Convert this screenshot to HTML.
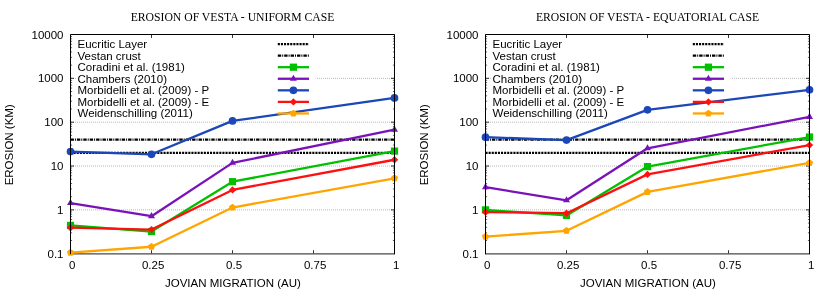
<!DOCTYPE html>
<html><head><meta charset="utf-8"><title>Erosion of Vesta</title>
<style>
html,body{margin:0;padding:0;background:#fff;}
body{width:830px;height:291px;overflow:hidden;}
svg{display:block;will-change:transform;}
text{font-family:"Liberation Sans",sans-serif;font-size:11.5px;fill:#000;}
.t{font-family:"Liberation Serif",serif;font-size:11.7px;}
</style></head><body>
<svg width="830" height="291" viewBox="0 0 830 291">
<rect width="830" height="291" fill="#fff"/>
<g transform="translate(0,0)">
<line x1="71.0" y1="209.86" x2="394.5" y2="209.86" stroke="#9a9a9a" stroke-width="0.7" stroke-dasharray="1 1"/>
<line x1="71.0" y1="166.02" x2="394.5" y2="166.02" stroke="#9a9a9a" stroke-width="0.7" stroke-dasharray="1 1"/>
<line x1="71.0" y1="122.18" x2="394.5" y2="122.18" stroke="#9a9a9a" stroke-width="0.7" stroke-dasharray="1 1"/>
<line x1="71.0" y1="78.34" x2="394.5" y2="78.34" stroke="#9a9a9a" stroke-width="0.7" stroke-dasharray="1 1"/>
<rect x="76" y="38" width="239.8" height="81.5" fill="#fff"/>
<path d="M70.5 240.50 h1.6 M394.5 240.50 h-1.6" stroke="#000" stroke-width="0.6" fill="none"/>
<path d="M70.5 232.78 h1.6 M394.5 232.78 h-1.6" stroke="#000" stroke-width="0.6" fill="none"/>
<path d="M70.5 227.31 h1.6 M394.5 227.31 h-1.6" stroke="#000" stroke-width="0.6" fill="none"/>
<path d="M70.5 223.06 h1.6 M394.5 223.06 h-1.6" stroke="#000" stroke-width="0.6" fill="none"/>
<path d="M70.5 219.59 h1.6 M394.5 219.59 h-1.6" stroke="#000" stroke-width="0.6" fill="none"/>
<path d="M70.5 216.65 h1.6 M394.5 216.65 h-1.6" stroke="#000" stroke-width="0.6" fill="none"/>
<path d="M70.5 214.11 h1.6 M394.5 214.11 h-1.6" stroke="#000" stroke-width="0.6" fill="none"/>
<path d="M70.5 211.87 h1.6 M394.5 211.87 h-1.6" stroke="#000" stroke-width="0.6" fill="none"/>
<path d="M70.5 209.86 h3.5 M394.5 209.86 h-3.5" stroke="#000" stroke-width="0.8" fill="none"/>
<path d="M70.5 196.66 h1.6 M394.5 196.66 h-1.6" stroke="#000" stroke-width="0.6" fill="none"/>
<path d="M70.5 188.94 h1.6 M394.5 188.94 h-1.6" stroke="#000" stroke-width="0.6" fill="none"/>
<path d="M70.5 183.47 h1.6 M394.5 183.47 h-1.6" stroke="#000" stroke-width="0.6" fill="none"/>
<path d="M70.5 179.22 h1.6 M394.5 179.22 h-1.6" stroke="#000" stroke-width="0.6" fill="none"/>
<path d="M70.5 175.75 h1.6 M394.5 175.75 h-1.6" stroke="#000" stroke-width="0.6" fill="none"/>
<path d="M70.5 172.81 h1.6 M394.5 172.81 h-1.6" stroke="#000" stroke-width="0.6" fill="none"/>
<path d="M70.5 170.27 h1.6 M394.5 170.27 h-1.6" stroke="#000" stroke-width="0.6" fill="none"/>
<path d="M70.5 168.03 h1.6 M394.5 168.03 h-1.6" stroke="#000" stroke-width="0.6" fill="none"/>
<path d="M70.5 166.02 h3.5 M394.5 166.02 h-3.5" stroke="#000" stroke-width="0.8" fill="none"/>
<path d="M70.5 152.82 h1.6 M394.5 152.82 h-1.6" stroke="#000" stroke-width="0.6" fill="none"/>
<path d="M70.5 145.10 h1.6 M394.5 145.10 h-1.6" stroke="#000" stroke-width="0.6" fill="none"/>
<path d="M70.5 139.63 h1.6 M394.5 139.63 h-1.6" stroke="#000" stroke-width="0.6" fill="none"/>
<path d="M70.5 135.38 h1.6 M394.5 135.38 h-1.6" stroke="#000" stroke-width="0.6" fill="none"/>
<path d="M70.5 131.91 h1.6 M394.5 131.91 h-1.6" stroke="#000" stroke-width="0.6" fill="none"/>
<path d="M70.5 128.97 h1.6 M394.5 128.97 h-1.6" stroke="#000" stroke-width="0.6" fill="none"/>
<path d="M70.5 126.43 h1.6 M394.5 126.43 h-1.6" stroke="#000" stroke-width="0.6" fill="none"/>
<path d="M70.5 124.19 h1.6 M394.5 124.19 h-1.6" stroke="#000" stroke-width="0.6" fill="none"/>
<path d="M70.5 122.18 h3.5 M394.5 122.18 h-3.5" stroke="#000" stroke-width="0.8" fill="none"/>
<path d="M70.5 108.98 h1.6 M394.5 108.98 h-1.6" stroke="#000" stroke-width="0.6" fill="none"/>
<path d="M70.5 101.26 h1.6 M394.5 101.26 h-1.6" stroke="#000" stroke-width="0.6" fill="none"/>
<path d="M70.5 95.79 h1.6 M394.5 95.79 h-1.6" stroke="#000" stroke-width="0.6" fill="none"/>
<path d="M70.5 91.54 h1.6 M394.5 91.54 h-1.6" stroke="#000" stroke-width="0.6" fill="none"/>
<path d="M70.5 88.07 h1.6 M394.5 88.07 h-1.6" stroke="#000" stroke-width="0.6" fill="none"/>
<path d="M70.5 85.13 h1.6 M394.5 85.13 h-1.6" stroke="#000" stroke-width="0.6" fill="none"/>
<path d="M70.5 82.59 h1.6 M394.5 82.59 h-1.6" stroke="#000" stroke-width="0.6" fill="none"/>
<path d="M70.5 80.35 h1.6 M394.5 80.35 h-1.6" stroke="#000" stroke-width="0.6" fill="none"/>
<path d="M70.5 78.34 h3.5 M394.5 78.34 h-3.5" stroke="#000" stroke-width="0.8" fill="none"/>
<path d="M70.5 65.14 h1.6 M394.5 65.14 h-1.6" stroke="#000" stroke-width="0.6" fill="none"/>
<path d="M70.5 57.42 h1.6 M394.5 57.42 h-1.6" stroke="#000" stroke-width="0.6" fill="none"/>
<path d="M70.5 51.95 h1.6 M394.5 51.95 h-1.6" stroke="#000" stroke-width="0.6" fill="none"/>
<path d="M70.5 47.70 h1.6 M394.5 47.70 h-1.6" stroke="#000" stroke-width="0.6" fill="none"/>
<path d="M70.5 44.23 h1.6 M394.5 44.23 h-1.6" stroke="#000" stroke-width="0.6" fill="none"/>
<path d="M70.5 41.29 h1.6 M394.5 41.29 h-1.6" stroke="#000" stroke-width="0.6" fill="none"/>
<path d="M70.5 38.75 h1.6 M394.5 38.75 h-1.6" stroke="#000" stroke-width="0.6" fill="none"/>
<path d="M70.5 36.51 h1.6 M394.5 36.51 h-1.6" stroke="#000" stroke-width="0.6" fill="none"/>
<path d="M70.50 253.7 v-3.5 M70.50 34.5 v3.5" stroke="#000" stroke-width="0.8" fill="none"/>
<path d="M151.50 253.7 v-3.5 M151.50 34.5 v3.5" stroke="#000" stroke-width="0.8" fill="none"/>
<path d="M232.50 253.7 v-3.5 M232.50 34.5 v3.5" stroke="#000" stroke-width="0.8" fill="none"/>
<path d="M313.50 253.7 v-3.5 M313.50 34.5 v3.5" stroke="#000" stroke-width="0.8" fill="none"/>
<path d="M394.50 253.7 v-3.5 M394.50 34.5 v3.5" stroke="#000" stroke-width="0.8" fill="none"/>
<line x1="70.0" y1="253.90" x2="395.0" y2="253.90" stroke="#484848" stroke-width="1.3"/>
<line x1="70.5" y1="152.82" x2="394.5" y2="152.82" stroke="#000" stroke-width="2.3" stroke-dasharray="2.1 1.0"/>
<line x1="70.5" y1="139.63" x2="394.5" y2="139.63" stroke="#000" stroke-width="2.3" stroke-dasharray="3.4 1.0 1.0 1.0"/>
<path d="M70.50 225.40 L151.50 231.55 L232.50 181.69 L394.50 151.09" stroke="#00c000" stroke-width="2.3" fill="none" stroke-linejoin="round" stroke-linecap="butt"/>
<rect x="66.90" y="221.80" width="7.20" height="7.20" fill="#00c000"/>
<rect x="147.90" y="227.95" width="7.20" height="7.20" fill="#00c000"/>
<rect x="228.90" y="178.09" width="7.20" height="7.20" fill="#00c000"/>
<rect x="390.90" y="147.49" width="7.20" height="7.20" fill="#00c000"/>
<path d="M70.50 203.05 L151.50 216.19 L232.50 162.87 L394.50 129.69" stroke="#7a12ba" stroke-width="2.3" fill="none" stroke-linejoin="round" stroke-linecap="butt"/>
<path d="M70.50 198.95 L74.00 205.05 L67.00 205.05 Z" fill="#7a12ba"/>
<path d="M151.50 212.09 L155.00 218.19 L148.00 218.19 Z" fill="#7a12ba"/>
<path d="M232.50 158.77 L236.00 164.87 L229.00 164.87 Z" fill="#7a12ba"/>
<path d="M394.50 125.59 L398.00 131.69 L391.00 131.69 Z" fill="#7a12ba"/>
<path d="M70.50 151.62 L151.50 154.31 L232.50 120.89 L394.50 97.90" stroke="#1c47b8" stroke-width="2.3" fill="none" stroke-linejoin="round" stroke-linecap="butt"/>
<circle cx="70.50" cy="151.62" r="3.85" fill="#1c47b8"/>
<circle cx="151.50" cy="154.31" r="3.85" fill="#1c47b8"/>
<circle cx="232.50" cy="120.89" r="3.85" fill="#1c47b8"/>
<circle cx="394.50" cy="97.90" r="3.85" fill="#1c47b8"/>
<path d="M70.50 227.69 L151.50 229.58 L232.50 189.92 L394.50 159.75" stroke="#ff1010" stroke-width="2.3" fill="none" stroke-linejoin="round" stroke-linecap="butt"/>
<path d="M70.50 223.99 L74.20 227.69 L70.50 231.39 L66.80 227.69 Z" fill="#ff1010"/>
<path d="M151.50 225.88 L155.20 229.58 L151.50 233.28 L147.80 229.58 Z" fill="#ff1010"/>
<path d="M232.50 186.22 L236.20 189.92 L232.50 193.62 L228.80 189.92 Z" fill="#ff1010"/>
<path d="M394.50 156.05 L398.20 159.75 L394.50 163.45 L390.80 159.75 Z" fill="#ff1010"/>
<path d="M70.50 252.59 L151.50 246.76 L232.50 207.53 L394.50 178.29" stroke="#ffa500" stroke-width="2.3" fill="none" stroke-linejoin="round" stroke-linecap="butt"/>
<polygon points="70.50,248.79 74.11,251.42 72.73,255.66 68.27,255.66 66.89,251.42" fill="#ffa500"/>
<polygon points="151.50,242.96 155.11,245.58 153.73,249.83 149.27,249.83 147.89,245.58" fill="#ffa500"/>
<polygon points="232.50,203.73 236.11,206.36 234.73,210.61 230.27,210.61 228.89,206.36" fill="#ffa500"/>
<polygon points="394.50,174.49 398.11,177.11 396.73,181.36 392.27,181.36 390.89,177.11" fill="#ffa500"/>
<path d="M70.5 254.1 V34.5 H394.5 V254.1" fill="none" stroke="#000" stroke-width="1" stroke-linejoin="miter"/>
<text x="77.5" y="47.95">Eucritic Layer</text>
<line x1="277.8" y1="44.05" x2="309.0" y2="44.05" stroke="#000" stroke-width="2.3" stroke-dasharray="2.1 1.0"/>
<text x="77.5" y="59.52">Vestan crust</text>
<line x1="277.8" y1="55.62" x2="309.0" y2="55.62" stroke="#000" stroke-width="2.3" stroke-dasharray="3.4 1.0 1.0 1.0"/>
<text x="77.5" y="71.09">Coradini et al. (1981)</text>
<line x1="277.8" y1="67.19" x2="309.0" y2="67.19" stroke="#00c000" stroke-width="2.3"/>
<rect x="289.80" y="63.59" width="7.20" height="7.20" fill="#00c000"/>
<text x="77.5" y="82.66">Chambers (2010)</text>
<line x1="277.8" y1="78.76" x2="309.0" y2="78.76" stroke="#7a12ba" stroke-width="2.3"/>
<path d="M293.40 74.66 L296.90 80.76 L289.90 80.76 Z" fill="#7a12ba"/>
<text x="77.5" y="94.23">Morbidelli et al. (2009) - P</text>
<line x1="277.8" y1="90.33" x2="309.0" y2="90.33" stroke="#1c47b8" stroke-width="2.3"/>
<circle cx="293.40" cy="90.33" r="3.85" fill="#1c47b8"/>
<text x="77.5" y="105.80">Morbidelli et al. (2009) - E</text>
<line x1="277.8" y1="101.90" x2="309.0" y2="101.90" stroke="#ff1010" stroke-width="2.3"/>
<path d="M293.40 98.20 L297.10 101.90 L293.40 105.60 L289.70 101.90 Z" fill="#ff1010"/>
<text x="77.5" y="117.37">Weidenschilling (2011)</text>
<line x1="277.8" y1="113.47" x2="309.0" y2="113.47" stroke="#ffa500" stroke-width="2.3"/>
<polygon points="293.40,109.67 297.01,112.30 295.63,116.54 291.17,116.54 289.79,112.30" fill="#ffa500"/>
<text x="63.5" y="257.70" text-anchor="end">0.1</text>
<text x="63.5" y="213.86" text-anchor="end">1</text>
<text x="63.5" y="170.02" text-anchor="end">10</text>
<text x="63.5" y="126.18" text-anchor="end">100</text>
<text x="63.5" y="82.34" text-anchor="end">1000</text>
<text x="63.5" y="38.50" text-anchor="end">10000</text>
<text x="72.10" y="269.4" text-anchor="middle">0</text>
<text x="153.10" y="269.4" text-anchor="middle">0.25</text>
<text x="234.10" y="269.4" text-anchor="middle">0.5</text>
<text x="315.10" y="269.4" text-anchor="middle">0.75</text>
<text x="396.10" y="269.4" text-anchor="middle">1</text>
<text x="232.9" y="286.8" text-anchor="middle">JOVIAN MIGRATION (AU)</text>
<text transform="translate(13.3,144.8) rotate(-90)" text-anchor="middle">EROSION (KM)</text>
<text class="t" x="232.5" y="20.6" text-anchor="middle">EROSION OF VESTA - UNIFORM CASE</text>
</g>
<g transform="translate(415,0)">
<line x1="71.0" y1="209.86" x2="394.5" y2="209.86" stroke="#9a9a9a" stroke-width="0.7" stroke-dasharray="1 1"/>
<line x1="71.0" y1="166.02" x2="394.5" y2="166.02" stroke="#9a9a9a" stroke-width="0.7" stroke-dasharray="1 1"/>
<line x1="71.0" y1="122.18" x2="394.5" y2="122.18" stroke="#9a9a9a" stroke-width="0.7" stroke-dasharray="1 1"/>
<line x1="71.0" y1="78.34" x2="394.5" y2="78.34" stroke="#9a9a9a" stroke-width="0.7" stroke-dasharray="1 1"/>
<rect x="76" y="38" width="239.8" height="81.5" fill="#fff"/>
<path d="M70.5 240.50 h1.6 M394.5 240.50 h-1.6" stroke="#000" stroke-width="0.6" fill="none"/>
<path d="M70.5 232.78 h1.6 M394.5 232.78 h-1.6" stroke="#000" stroke-width="0.6" fill="none"/>
<path d="M70.5 227.31 h1.6 M394.5 227.31 h-1.6" stroke="#000" stroke-width="0.6" fill="none"/>
<path d="M70.5 223.06 h1.6 M394.5 223.06 h-1.6" stroke="#000" stroke-width="0.6" fill="none"/>
<path d="M70.5 219.59 h1.6 M394.5 219.59 h-1.6" stroke="#000" stroke-width="0.6" fill="none"/>
<path d="M70.5 216.65 h1.6 M394.5 216.65 h-1.6" stroke="#000" stroke-width="0.6" fill="none"/>
<path d="M70.5 214.11 h1.6 M394.5 214.11 h-1.6" stroke="#000" stroke-width="0.6" fill="none"/>
<path d="M70.5 211.87 h1.6 M394.5 211.87 h-1.6" stroke="#000" stroke-width="0.6" fill="none"/>
<path d="M70.5 209.86 h3.5 M394.5 209.86 h-3.5" stroke="#000" stroke-width="0.8" fill="none"/>
<path d="M70.5 196.66 h1.6 M394.5 196.66 h-1.6" stroke="#000" stroke-width="0.6" fill="none"/>
<path d="M70.5 188.94 h1.6 M394.5 188.94 h-1.6" stroke="#000" stroke-width="0.6" fill="none"/>
<path d="M70.5 183.47 h1.6 M394.5 183.47 h-1.6" stroke="#000" stroke-width="0.6" fill="none"/>
<path d="M70.5 179.22 h1.6 M394.5 179.22 h-1.6" stroke="#000" stroke-width="0.6" fill="none"/>
<path d="M70.5 175.75 h1.6 M394.5 175.75 h-1.6" stroke="#000" stroke-width="0.6" fill="none"/>
<path d="M70.5 172.81 h1.6 M394.5 172.81 h-1.6" stroke="#000" stroke-width="0.6" fill="none"/>
<path d="M70.5 170.27 h1.6 M394.5 170.27 h-1.6" stroke="#000" stroke-width="0.6" fill="none"/>
<path d="M70.5 168.03 h1.6 M394.5 168.03 h-1.6" stroke="#000" stroke-width="0.6" fill="none"/>
<path d="M70.5 166.02 h3.5 M394.5 166.02 h-3.5" stroke="#000" stroke-width="0.8" fill="none"/>
<path d="M70.5 152.82 h1.6 M394.5 152.82 h-1.6" stroke="#000" stroke-width="0.6" fill="none"/>
<path d="M70.5 145.10 h1.6 M394.5 145.10 h-1.6" stroke="#000" stroke-width="0.6" fill="none"/>
<path d="M70.5 139.63 h1.6 M394.5 139.63 h-1.6" stroke="#000" stroke-width="0.6" fill="none"/>
<path d="M70.5 135.38 h1.6 M394.5 135.38 h-1.6" stroke="#000" stroke-width="0.6" fill="none"/>
<path d="M70.5 131.91 h1.6 M394.5 131.91 h-1.6" stroke="#000" stroke-width="0.6" fill="none"/>
<path d="M70.5 128.97 h1.6 M394.5 128.97 h-1.6" stroke="#000" stroke-width="0.6" fill="none"/>
<path d="M70.5 126.43 h1.6 M394.5 126.43 h-1.6" stroke="#000" stroke-width="0.6" fill="none"/>
<path d="M70.5 124.19 h1.6 M394.5 124.19 h-1.6" stroke="#000" stroke-width="0.6" fill="none"/>
<path d="M70.5 122.18 h3.5 M394.5 122.18 h-3.5" stroke="#000" stroke-width="0.8" fill="none"/>
<path d="M70.5 108.98 h1.6 M394.5 108.98 h-1.6" stroke="#000" stroke-width="0.6" fill="none"/>
<path d="M70.5 101.26 h1.6 M394.5 101.26 h-1.6" stroke="#000" stroke-width="0.6" fill="none"/>
<path d="M70.5 95.79 h1.6 M394.5 95.79 h-1.6" stroke="#000" stroke-width="0.6" fill="none"/>
<path d="M70.5 91.54 h1.6 M394.5 91.54 h-1.6" stroke="#000" stroke-width="0.6" fill="none"/>
<path d="M70.5 88.07 h1.6 M394.5 88.07 h-1.6" stroke="#000" stroke-width="0.6" fill="none"/>
<path d="M70.5 85.13 h1.6 M394.5 85.13 h-1.6" stroke="#000" stroke-width="0.6" fill="none"/>
<path d="M70.5 82.59 h1.6 M394.5 82.59 h-1.6" stroke="#000" stroke-width="0.6" fill="none"/>
<path d="M70.5 80.35 h1.6 M394.5 80.35 h-1.6" stroke="#000" stroke-width="0.6" fill="none"/>
<path d="M70.5 78.34 h3.5 M394.5 78.34 h-3.5" stroke="#000" stroke-width="0.8" fill="none"/>
<path d="M70.5 65.14 h1.6 M394.5 65.14 h-1.6" stroke="#000" stroke-width="0.6" fill="none"/>
<path d="M70.5 57.42 h1.6 M394.5 57.42 h-1.6" stroke="#000" stroke-width="0.6" fill="none"/>
<path d="M70.5 51.95 h1.6 M394.5 51.95 h-1.6" stroke="#000" stroke-width="0.6" fill="none"/>
<path d="M70.5 47.70 h1.6 M394.5 47.70 h-1.6" stroke="#000" stroke-width="0.6" fill="none"/>
<path d="M70.5 44.23 h1.6 M394.5 44.23 h-1.6" stroke="#000" stroke-width="0.6" fill="none"/>
<path d="M70.5 41.29 h1.6 M394.5 41.29 h-1.6" stroke="#000" stroke-width="0.6" fill="none"/>
<path d="M70.5 38.75 h1.6 M394.5 38.75 h-1.6" stroke="#000" stroke-width="0.6" fill="none"/>
<path d="M70.5 36.51 h1.6 M394.5 36.51 h-1.6" stroke="#000" stroke-width="0.6" fill="none"/>
<path d="M70.50 253.7 v-3.5 M70.50 34.5 v3.5" stroke="#000" stroke-width="0.8" fill="none"/>
<path d="M151.50 253.7 v-3.5 M151.50 34.5 v3.5" stroke="#000" stroke-width="0.8" fill="none"/>
<path d="M232.50 253.7 v-3.5 M232.50 34.5 v3.5" stroke="#000" stroke-width="0.8" fill="none"/>
<path d="M313.50 253.7 v-3.5 M313.50 34.5 v3.5" stroke="#000" stroke-width="0.8" fill="none"/>
<path d="M394.50 253.7 v-3.5 M394.50 34.5 v3.5" stroke="#000" stroke-width="0.8" fill="none"/>
<line x1="70.0" y1="253.90" x2="395.0" y2="253.90" stroke="#484848" stroke-width="1.3"/>
<line x1="70.5" y1="152.82" x2="394.5" y2="152.82" stroke="#000" stroke-width="2.3" stroke-dasharray="2.1 1.0"/>
<line x1="70.5" y1="139.63" x2="394.5" y2="139.63" stroke="#000" stroke-width="2.3" stroke-dasharray="3.4 1.0 1.0 1.0"/>
<path d="M70.50 209.86 L151.50 215.39 L232.50 166.60 L394.50 137.01" stroke="#00c000" stroke-width="2.3" fill="none" stroke-linejoin="round" stroke-linecap="butt"/>
<rect x="66.90" y="206.26" width="7.20" height="7.20" fill="#00c000"/>
<rect x="147.90" y="211.79" width="7.20" height="7.20" fill="#00c000"/>
<rect x="228.90" y="163.00" width="7.20" height="7.20" fill="#00c000"/>
<rect x="390.90" y="133.41" width="7.20" height="7.20" fill="#00c000"/>
<path d="M70.50 187.19 L151.50 200.33 L232.50 148.27 L394.50 116.89" stroke="#7a12ba" stroke-width="2.3" fill="none" stroke-linejoin="round" stroke-linecap="butt"/>
<path d="M70.50 183.09 L74.00 189.19 L67.00 189.19 Z" fill="#7a12ba"/>
<path d="M151.50 196.23 L155.00 202.33 L148.00 202.33 Z" fill="#7a12ba"/>
<path d="M232.50 144.17 L236.00 150.27 L229.00 150.27 Z" fill="#7a12ba"/>
<path d="M394.50 112.79 L398.00 118.89 L391.00 118.89 Z" fill="#7a12ba"/>
<path d="M70.50 137.21 L151.50 140.11 L232.50 109.80 L394.50 89.86" stroke="#1c47b8" stroke-width="2.3" fill="none" stroke-linejoin="round" stroke-linecap="butt"/>
<circle cx="70.50" cy="137.21" r="3.85" fill="#1c47b8"/>
<circle cx="151.50" cy="140.11" r="3.85" fill="#1c47b8"/>
<circle cx="232.50" cy="109.80" r="3.85" fill="#1c47b8"/>
<circle cx="394.50" cy="89.86" r="3.85" fill="#1c47b8"/>
<path d="M70.50 212.10 L151.50 213.20 L232.50 174.40 L394.50 145.10" stroke="#ff1010" stroke-width="2.3" fill="none" stroke-linejoin="round" stroke-linecap="butt"/>
<path d="M70.50 208.40 L74.20 212.10 L70.50 215.80 L66.80 212.10 Z" fill="#ff1010"/>
<path d="M151.50 209.50 L155.20 213.20 L151.50 216.90 L147.80 213.20 Z" fill="#ff1010"/>
<path d="M232.50 170.70 L236.20 174.40 L232.50 178.10 L228.80 174.40 Z" fill="#ff1010"/>
<path d="M394.50 141.40 L398.20 145.10 L394.50 148.80 L390.80 145.10 Z" fill="#ff1010"/>
<path d="M70.50 236.64 L151.50 230.80 L232.50 191.89 L394.50 162.87" stroke="#ffa500" stroke-width="2.3" fill="none" stroke-linejoin="round" stroke-linecap="butt"/>
<polygon points="70.50,232.84 74.11,235.46 72.73,239.71 68.27,239.71 66.89,235.46" fill="#ffa500"/>
<polygon points="151.50,227.00 155.11,229.62 153.73,233.87 149.27,233.87 147.89,229.62" fill="#ffa500"/>
<polygon points="232.50,188.09 236.11,190.71 234.73,194.96 230.27,194.96 228.89,190.71" fill="#ffa500"/>
<polygon points="394.50,159.07 398.11,161.69 396.73,165.94 392.27,165.94 390.89,161.69" fill="#ffa500"/>
<path d="M70.5 254.1 V34.5 H394.5 V254.1" fill="none" stroke="#000" stroke-width="1" stroke-linejoin="miter"/>
<text x="77.5" y="47.95">Eucritic Layer</text>
<line x1="277.8" y1="44.05" x2="309.0" y2="44.05" stroke="#000" stroke-width="2.3" stroke-dasharray="2.1 1.0"/>
<text x="77.5" y="59.52">Vestan crust</text>
<line x1="277.8" y1="55.62" x2="309.0" y2="55.62" stroke="#000" stroke-width="2.3" stroke-dasharray="3.4 1.0 1.0 1.0"/>
<text x="77.5" y="71.09">Coradini et al. (1981)</text>
<line x1="277.8" y1="67.19" x2="309.0" y2="67.19" stroke="#00c000" stroke-width="2.3"/>
<rect x="289.80" y="63.59" width="7.20" height="7.20" fill="#00c000"/>
<text x="77.5" y="82.66">Chambers (2010)</text>
<line x1="277.8" y1="78.76" x2="309.0" y2="78.76" stroke="#7a12ba" stroke-width="2.3"/>
<path d="M293.40 74.66 L296.90 80.76 L289.90 80.76 Z" fill="#7a12ba"/>
<text x="77.5" y="94.23">Morbidelli et al. (2009) - P</text>
<line x1="277.8" y1="90.33" x2="309.0" y2="90.33" stroke="#1c47b8" stroke-width="2.3"/>
<circle cx="293.40" cy="90.33" r="3.85" fill="#1c47b8"/>
<text x="77.5" y="105.80">Morbidelli et al. (2009) - E</text>
<line x1="277.8" y1="101.90" x2="309.0" y2="101.90" stroke="#ff1010" stroke-width="2.3"/>
<path d="M293.40 98.20 L297.10 101.90 L293.40 105.60 L289.70 101.90 Z" fill="#ff1010"/>
<text x="77.5" y="117.37">Weidenschilling (2011)</text>
<line x1="277.8" y1="113.47" x2="309.0" y2="113.47" stroke="#ffa500" stroke-width="2.3"/>
<polygon points="293.40,109.67 297.01,112.30 295.63,116.54 291.17,116.54 289.79,112.30" fill="#ffa500"/>
<text x="63.5" y="257.70" text-anchor="end">0.1</text>
<text x="63.5" y="213.86" text-anchor="end">1</text>
<text x="63.5" y="170.02" text-anchor="end">10</text>
<text x="63.5" y="126.18" text-anchor="end">100</text>
<text x="63.5" y="82.34" text-anchor="end">1000</text>
<text x="63.5" y="38.50" text-anchor="end">10000</text>
<text x="72.10" y="269.4" text-anchor="middle">0</text>
<text x="153.10" y="269.4" text-anchor="middle">0.25</text>
<text x="234.10" y="269.4" text-anchor="middle">0.5</text>
<text x="315.10" y="269.4" text-anchor="middle">0.75</text>
<text x="396.10" y="269.4" text-anchor="middle">1</text>
<text x="232.9" y="286.8" text-anchor="middle">JOVIAN MIGRATION (AU)</text>
<text transform="translate(13.3,144.8) rotate(-90)" text-anchor="middle">EROSION (KM)</text>
<text class="t" x="232.5" y="20.6" text-anchor="middle">EROSION OF VESTA - EQUATORIAL CASE</text>
</g>
</svg></body></html>
